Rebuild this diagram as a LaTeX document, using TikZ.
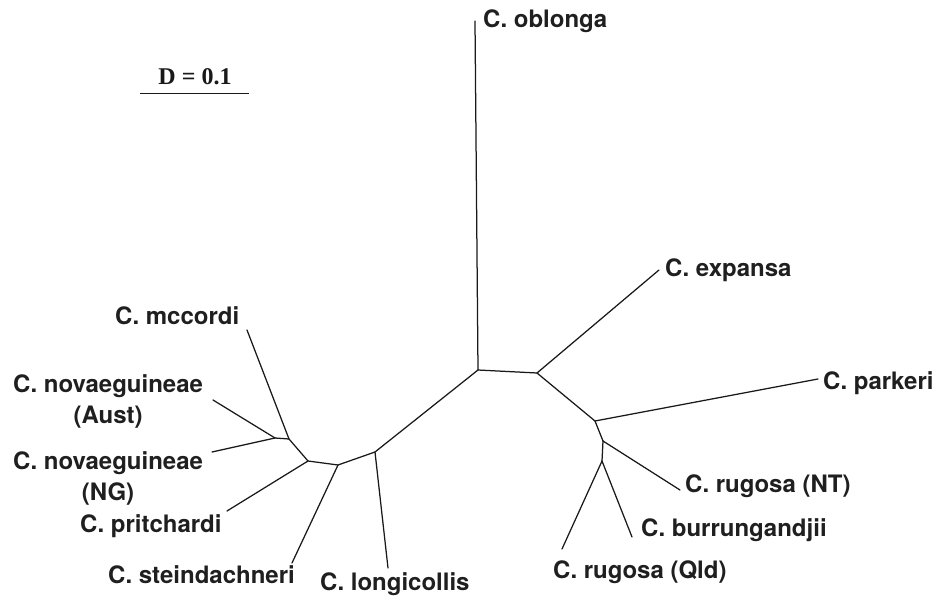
\documentclass[tikz,border=0pt]{standalone}
\usepackage{fontspec}
\newfontfamily\labfont{TeX Gyre Heros}
\newfontfamily\barfont{Liberation Serif}
\begin{document}
\begin{tikzpicture}[x=1pt,y=-1pt,
  branch/.style={line width=1.25pt, line cap=round, line join=round, black!90},
  lab/.style={font=\labfont\bfseries\fontsize{24}{26}\selectfont, inner sep=0pt, text=black!88},
  barlab/.style={font=\barfont\bfseries\fontsize{24}{26}\selectfont, inner sep=0pt, text=black!90}]
\useasboundingbox (0,0) rectangle (938,596);
% internal nodes
\coordinate (A) at (478,370);
\coordinate (B) at (537,373);
\coordinate (C) at (595,421);
\coordinate (D) at (603,441);
\coordinate (E) at (602,461);
\coordinate (F) at (375,452);
\coordinate (G) at (338,465);
\coordinate (H) at (308,461);
\coordinate (I) at (289,439);
\coordinate (J) at (275,438);
% leaves
\coordinate (oblonga) at (475,21);
\coordinate (expansa) at (659,270);
\coordinate (parkeri) at (818,379);
\coordinate (rugNT) at (680,490);
\coordinate (burr) at (632,537);
\coordinate (rugQld) at (562,549);
\coordinate (longi) at (388,568);
\coordinate (stein) at (292,563);
\coordinate (pritch) at (227,511);
\coordinate (novNG) at (212,452);
\coordinate (novAu) at (213,400);
\coordinate (mccordi) at (247,330);
% branches
\draw[branch] (A) -- (oblonga);
\draw[branch] (A) -- (B);
\draw[branch] (B) -- (expansa);
\draw[branch] (B) -- (C);
\draw[branch] (C) -- (parkeri);
\draw[branch] (C) -- (D);
\draw[branch] (D) -- (rugNT);
\draw[branch] (D) -- (E);
\draw[branch] (E) -- (burr);
\draw[branch] (E) -- (rugQld);
\draw[branch] (A) -- (F);
\draw[branch] (F) -- (longi);
\draw[branch] (F) -- (G);
\draw[branch] (G) -- (stein);
\draw[branch] (G) -- (H);
\draw[branch] (H) -- (pritch);
\draw[branch] (H) -- (I);
\draw[branch] (I) -- (mccordi);
\draw[branch] (I) -- (J);
\draw[branch] (J) -- (novAu);
\draw[branch] (J) -- (novNG);
% labels
\node[lab, anchor=base west] (Loblonga) at (483,28) {C. oblonga};
\node[lab, anchor=base west] (Lexpansa) at (665,277) {C. expansa};
\node[lab, anchor=base west] (Lparkeri) at (823,389) {C. parkeri};
\node[lab, anchor=base west] (LrugNT) at (685,492) {C. rugosa (NT)};
\node[lab, anchor=base west] (Lburr) at (641,536) {C. burrungandjii};
\node[lab, anchor=base west] (LrugQld) at (553,578) {C. rugosa (Qld)};
\node[lab, anchor=base west] (Llongi) at (320,590) {C. longicollis};
\node[lab, anchor=base west] (Lstein) at (108,583) {C. steindachneri};
\node[lab, anchor=base west] (Lpritch) at (80,532) {C. pritchardi};
\node[lab, anchor=base west] (LnovNG) at (13,469) {C. novaeguineae};
\node[lab, anchor=base] (LnovNGb) at ([yshift=-31pt]LnovNG.base) {(NG)};
\node[lab, anchor=base west] (LnovAu) at (13,392) {C. novaeguineae};
\node[lab, anchor=base] (LnovAub) at ([yshift=-31pt]LnovAu.base) {(Aust)};
\node[lab, anchor=base west] (Lmccordi) at (115,325) {C. mccordi};
% scale bar
\coordinate (s1) at (140,93.5);
\coordinate (s2) at (249,93.5);
\draw[line width=0.9pt, black!90] (s1) -- (s2);
\node[barlab, anchor=base] (Lbar) at (195,85) {D = 0.1};
\end{tikzpicture}
\end{document}
